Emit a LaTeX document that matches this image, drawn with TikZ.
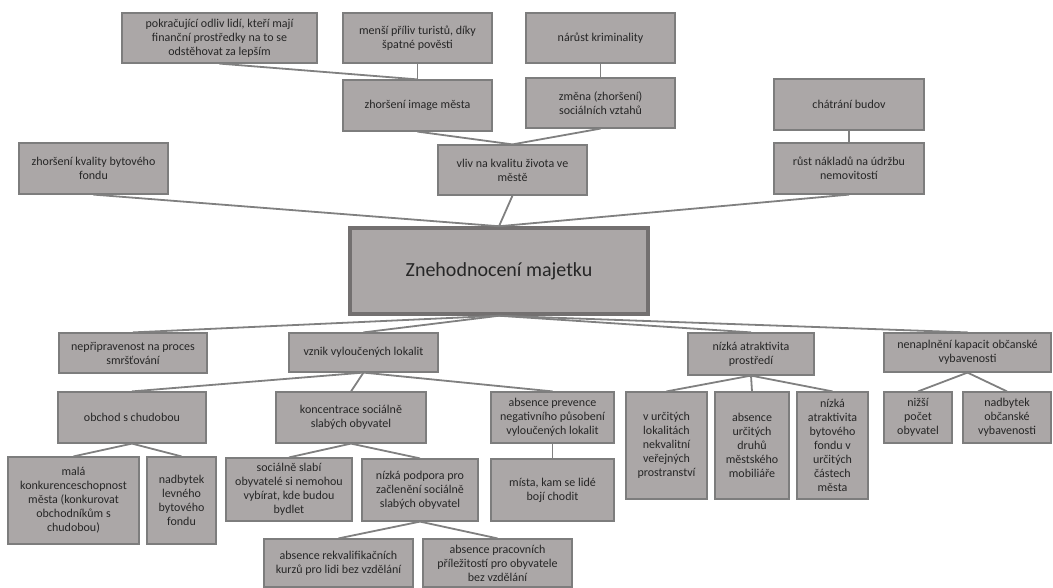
\documentclass[tikz,border=0pt]{standalone}
\usepackage{fontspec}
\setmainfont{Carlito}
\definecolor{boxfill}{RGB}{171,167,167}
\definecolor{boxline}{RGB}{125,125,125}
\definecolor{mainline}{RGB}{115,112,112}
\definecolor{linegray}{RGB}{128,128,128}
\definecolor{txt}{RGB}{38,38,38}
\tikzset{
 box/.style={draw=boxline, fill=boxfill, line width=1.2pt, align=center, text=txt, inner sep=0pt, font=\fontsize{12}{14}\selectfont},
 mainbox/.style={line width=3.5pt, draw=mainline, font=\fontsize{20}{24}\selectfont},
 conn/.style={draw=linegray, line width=1.8pt},
}
\newcommand{\bx}[7][]{\node[box,#1,minimum width={(#5-#3)*1pt},minimum height={(#6-#4)*1pt}] (#2) at ({(#3+#5)/2},{(#4+#6)/2}) {#7};}
\begin{document}
\begin{tikzpicture}[x=1pt,y=-1pt]
\useasboundingbox (0,0) rectangle (1053,588);
% top part
\bx{odliv}{122}{13}{317}{63}{pokračující odliv lidí, kteří mají\\finanční prostředky na to se\\odstěhovat za lepším}
\bx{turiste}{343}{13}{492}{63}{menší příliv turistů, díky\\špatné pověsti}
\bx{krimi}{526}{13}{675}{63}{nárůst kriminality}
\bx{image}{343}{80}{492}{131}{zhoršení image města}
\bx{vztahy}{526}{78}{675}{128}{změna (zhoršení)\\sociálních vztahů}
\bx{zivot}{438}{145}{587}{195}{vliv na kvalitu života ve\\městě}
\bx{chatrani}{774}{79}{924}{130}{chátrání budov}
\bx{naklady}{774}{143}{924}{194}{růst nákladů na údržbu\\nemovitostí}
\bx{fond}{19}{143}{168}{194}{zhoršení kvality bytového\\fondu}
% centre
\bx[mainbox]{main}{350}{228}{648}{314}{Znehodnocení majetku}
% lower part
\bx{nepr}{59}{333}{207}{373}{nepřipravenost na proces\\smršťování}
\bx{vznik}{289}{333}{438}{372}{vznik vyloučených lokalit}
\bx{atrakt}{688}{333}{814}{375}{nízká atraktivita\\prostředí}
\bx{kapac}{884}{333}{1051}{372}{nenaplnění kapacit občanské\\vybavenosti}
\bx{obchod}{58}{392}{206}{443}{obchod s chudobou}
\bx{koncent}{276}{392}{426}{443}{koncentrace sociálně\\slabých obyvatel}
\bx{prevence}{491}{392}{614}{443}{absence prevence\\negativního působení\\vyloučených lokalit}
\bx{mista}{491}{459}{614}{521}{místa, kam se lidé\\bojí chodit}
\bx{verejne}{626}{392}{707}{499}{v určitých\\lokalitách\\nekvalitní\\veřejných\\prostranství}
\bx{mobiliar}{715}{392}{789}{499}{absence\\určitých\\druhů\\městského\\mobiliáře}
\bx{bytfond}{797}{392}{868}{499}{nízká\\atraktivita\\bytového\\fondu v\\určitých\\částech\\města}
\bx{nizsi}{884}{392}{952}{443}{nižší\\počet\\obyvatel}
\bx{nadobc}{963}{392}{1051}{443}{nadbytek\\občanské\\vybavenosti}
\bx{mala}{8}{457}{139}{544}{malá\\konkurenceschopnost\\města (konkurovat\\obchodníkům s\\chudobou)}
\bx{levny}{147}{457}{216}{544}{nadbytek\\levného\\bytového\\fondu}
\bx{nemohou}{226}{458}{352}{521}{sociálně slabí\\obyvatelé si nemohou\\vybírat, kde budou\\bydlet}
\bx{podpora}{362}{459}{478}{521}{nízká podpora pro\\začlenění sociálně\\slabých obyvatel}
\bx{rekval}{264}{539}{413}{587}{absence rekvalifikačních\\kurzů pro lidi bez vzdělání}
\bx{prace}{423}{539}{572}{587}{absence pracovních\\příležitostí pro obyvatele\\bez vzdělání}
% connectors
\draw[conn] (odliv.south) -- (image.north);
\draw[conn] (turiste.south) -- (image.north);
\draw[conn] (krimi.south) -- (vztahy.north);
\draw[conn] (image.south) -- (zivot.north);
\draw[conn] (vztahy.south) -- (zivot.north);
\draw[conn] (chatrani.south) -- (naklady.north);
\draw[conn] (zivot.south) -- (main.north);
\draw[conn] (fond.south) -- (main.north);
\draw[conn] (naklady.south) -- (main.north);
\draw[conn] (main.south) -- (nepr.north);
\draw[conn] (main.south) -- (vznik.north);
\draw[conn] (main.south) -- (atrakt.north);
\draw[conn] (main.south) -- (kapac.north);
\draw[conn] (vznik.south) -- (obchod.north);
\draw[conn] (vznik.south) -- (koncent.north);
\draw[conn] (vznik.south) -- (prevence.north);
\draw[conn] (prevence.south) -- (mista.north);
\draw[conn] (obchod.south) -- (mala.north);
\draw[conn] (obchod.south) -- (levny.north);
\draw[conn] (koncent.south) -- (nemohou.north);
\draw[conn] (koncent.south) -- (podpora.north);
\draw[conn] (podpora.south) -- (rekval.north);
\draw[conn] (podpora.south) -- (prace.north);
\draw[conn] (atrakt.south) -- (verejne.north);
\draw[conn] (atrakt.south) -- (mobiliar.north);
\draw[conn] (atrakt.south) -- (bytfond.north);
\draw[conn] (kapac.south) -- (nizsi.north);
\draw[conn] (kapac.south) -- (nadobc.north);
\end{tikzpicture}
\end{document}
